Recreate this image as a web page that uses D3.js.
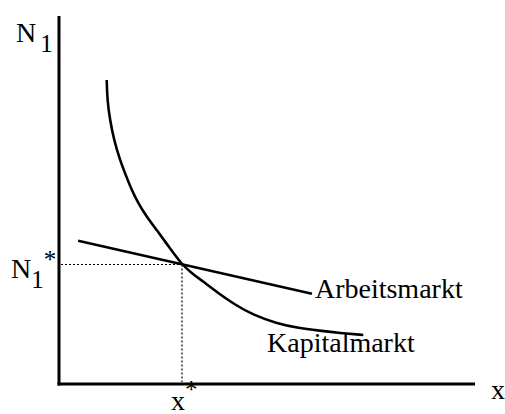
<!DOCTYPE html>
<html>
<head>
<script src="https://d3js.org/d3.v7.min.js"></script>
<style>
svg text { font-family: "Liberation Serif", serif !important; }
</style>
</head>
<body style="margin:0">
<script>
// data, in arbitrary units (0..100 on both axes)
var kapital = [[11.47, 82.61], [11.61, 77.17], [12.26, 71.74], [13.22, 66.3], [14.66, 60.87],
               [15.87, 57.26], [17.48, 52.72], [19.06, 49.1], [21.08, 45.46], [23.49, 41.85],
               [26.68, 36.87], [29.57, 32.47], [31.49, 30.52], [34.69, 27.8], [38.1, 24.86],
               [42.19, 21.6], [46.71, 18.75], [52.33, 16.49], [57.14, 15.3], [62.74, 14.48],
               [67.55, 13.86], [73.15, 13.32]];
var arbeit = [[4.6, 38.9], [60.8, 24.5]];
var equil = [29.57, 32.47];

var width = 505, height = 414;

var xScale = d3.scaleLinear().domain([0, 100]).range([59, 475]);
var yScale = d3.scaleLinear().domain([0, 100]).range([384, 16]);

var svg = d3.select("body").append("svg")
    .attr("width", width)
    .attr("height", height);

// axes
svg.append("line")
    .attr("x1", xScale(0)).attr("x2", xScale(0))
    .attr("y1", yScale(100)).attr("y2", yScale(0) + 1.5)
    .attr("stroke", "#000").attr("stroke-width", 3);
svg.append("line")
    .attr("x1", xScale(0) - 1.5).attr("x2", xScale(100))
    .attr("y1", yScale(0)).attr("y2", yScale(0))
    .attr("stroke", "#000").attr("stroke-width", 3);

// dotted guides
svg.append("line")
    .attr("x1", xScale(0) + 2).attr("x2", xScale(equil[0]))
    .attr("y1", yScale(equil[1])).attr("y2", yScale(equil[1]))
    .attr("stroke", "#000").attr("stroke-width", 1.2)
    .attr("stroke-dasharray", "2,2");
svg.append("line")
    .attr("x1", xScale(equil[0])).attr("x2", xScale(equil[0]))
    .attr("y1", yScale(equil[1])).attr("y2", yScale(0) - 2)
    .attr("stroke", "#000").attr("stroke-width", 1.2)
    .attr("stroke-dasharray", "2,2");

var line = d3.line()
    .x(function(d) { return xScale(d[0]); })
    .y(function(d) { return yScale(d[1]); });

svg.append("path")
    .attr("d", line.curve(d3.curveBasis)(kapital))
    .attr("fill", "none").attr("stroke", "#000").attr("stroke-width", 2.6);

svg.append("path")
    .attr("d", line.curve(d3.curveLinear)(arbeit))
    .attr("fill", "none").attr("stroke", "#000").attr("stroke-width", 2.6);

// labels: each piece its own <text>, placed after the one before
function label(x, y, parts) {
  var cx = x;
  parts.forEach(function(p) {
    cx += p.dx || 0;
    var t = svg.append("text")
        .attr("x", cx).attr("y", y + (p.dy || 0))
        .attr("font-family", "Liberation Serif")
        .style("font-family", "'Liberation Serif', serif", "important")
        .style("font-size", p.size || "28px")
        .style("fill", "#000")
        .text(p.text);
    cx += t.node().getComputedTextLength();
  });
}

label(16, 42, [{text: "N"}, {text: "1", dx: 4, dy: 10, size: "25px"}]);
label(11, 278, [{text: "N"}, {text: "1", dy: 10, size: "25px"}, {text: "*", dy: -10, size: "25px"}]);
label(171, 410, [{text: "x"}, {text: "*", dy: -12, size: "25px"}]);
label(491, 399, [{text: "x"}]);
label(xScale(arbeit[1][0]) + 3, 298, [{text: "Arbeitsmarkt"}]);
label(267, 352, [{text: "Kapitalmarkt"}]);
</script>
</body>
</html>
